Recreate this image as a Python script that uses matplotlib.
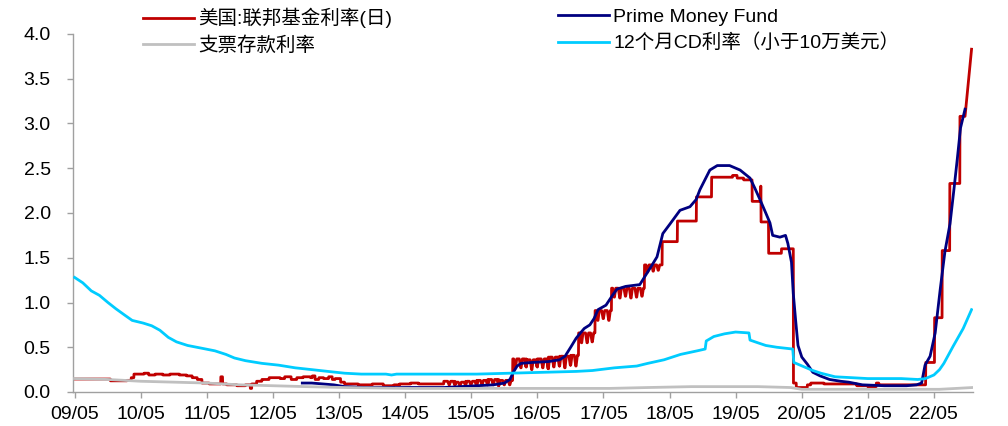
import matplotlib
matplotlib.use("Agg")
import matplotlib.pyplot as plt
import matplotlib.dates as mdates
import pandas as pd

plt.rcParams['font.family'] = ['Liberation Sans', 'Noto Sans CJK SC']

# ---- labels -------------------------------------------------------------
label_ffr = "美国:联邦基金利率(日)"
label_chk = "支票存款利率"
label_pmf = "Prime Money Fund"
label_cd = "12个月CD利率（小于10万美元）"

# ---- effective fed funds rate: level changes (date, level) ---------------
ffr_dates = [
    "2009-05-01", "2009-11-15", "2010-02-15",
    "2010-03-10", "2010-03-25", "2010-05-20", "2010-06-15", "2010-07-20",
    "2010-09-01", "2010-10-10", "2010-12-01", "2011-01-10", "2011-02-10",
    "2011-03-10", "2011-04-05", "2011-05-15", "2011-07-18", "2011-07-28",
    "2011-08-20", "2011-10-15", "2011-12-01", "2011-12-28", "2012-01-05",
    "2012-02-01", "2012-03-01", "2012-04-10", "2012-06-10", "2012-07-05",
    "2012-08-10", "2012-09-10", "2012-10-15", "2012-11-25", "2012-12-05",
    "2012-12-20", "2013-01-10", "2013-02-05", "2013-03-05", "2013-03-25",
    "2013-04-10", "2013-05-10", "2013-06-01", "2013-08-15", "2013-11-01",
    "2014-01-01", "2014-03-01", "2014-04-01", "2014-06-01", "2014-07-15",
    "2014-12-01", "2015-02-01", "2015-04-01", "2015-06-01", "2015-08-01",
    "2015-10-01", "2015-12-17", "2016-03-01", "2016-05-01", "2016-07-01",
    "2016-09-01", "2016-11-01", "2016-12-15", "2017-03-16", "2017-06-15",
    "2017-12-14", "2018-03-22", "2018-06-14", "2018-09-27", "2018-12-20",
    "2019-04-15", "2019-05-10", "2019-06-15", "2019-08-01", "2019-09-17",
    "2019-09-19", "2019-10-31", "2020-01-10", "2020-03-16",
    "2020-04-01", "2020-06-01", "2020-06-20", "2020-09-01", "2021-03-01",
    "2021-05-01", "2021-06-17", "2021-07-01", "2022-03-17", "2022-05-05",
    "2022-06-16", "2022-07-28", "2022-09-22",
]
ffr_levels = [
    0.145, 0.125, 0.13,
    0.16, 0.20, 0.21, 0.19, 0.20,
    0.19, 0.20, 0.19, 0.18, 0.16,
    0.14, 0.10, 0.09, 0.17, 0.09,
    0.08, 0.07, 0.08, 0.04, 0.09,
    0.12, 0.14, 0.16, 0.15, 0.17,
    0.14, 0.16, 0.17, 0.16, 0.18,
    0.14, 0.16, 0.15, 0.17, 0.14,
    0.15, 0.11, 0.09, 0.08, 0.09,
    0.07, 0.08, 0.09, 0.10, 0.09,
    0.12, 0.11, 0.12, 0.13, 0.14,
    0.13, 0.37, 0.36, 0.37, 0.39,
    0.40, 0.41, 0.66, 0.91, 1.16,
    1.42, 1.68, 1.91, 2.18, 2.40,
    2.42, 2.39, 2.37, 2.13, 2.30,
    1.90, 1.55, 1.60, 0.10,
    0.05, 0.08, 0.10, 0.09, 0.07,
    0.06, 0.10, 0.08, 0.33, 0.83,
    1.58, 2.33, 3.08,
]
# month-end dips of the daily rate
ffr_dip_months = [
    "2014-12", "2015-01", "2015-02", "2015-03", "2015-04", "2015-05",
    "2015-06", "2015-07", "2015-08", "2015-09", "2015-10", "2015-11",
    "2015-12", "2016-01", "2016-02", "2016-03", "2016-04", "2016-05",
    "2016-06", "2016-07", "2016-08", "2016-09", "2016-10", "2016-11",
    "2016-12", "2017-01", "2017-02", "2017-03", "2017-04", "2017-05",
    "2017-06", "2017-07", "2017-08", "2017-09", "2017-10", "2017-11",
    "2017-12", "2018-01", "2018-02",
]
ffr_dip_levels = [
    0.08, 0.08, 0.07, 0.08, 0.08, 0.07,
    0.08, 0.08, 0.08, 0.07, 0.08, 0.08,
    0.27, 0.27, 0.28, 0.25, 0.28, 0.27,
    0.26, 0.28, 0.29, 0.27, 0.30, 0.29,
    0.55, 0.55, 0.56, 0.80, 0.82, 0.80,
    1.06, 1.05, 1.07, 1.05, 1.06, 1.07,
    1.34, 1.35, 1.36,
]
ffr_tail_dates = ["2022-10-20", "2022-11-25"]
ffr_tail_levels = [3.08, 3.83]

# ---- checking deposit rate ---------------------------------------------
chk_dates = [
    "2009-05-01", "2009-11-01", "2010-05-01", "2010-11-01", "2011-05-01",
    "2011-11-01", "2012-05-01", "2012-11-01", "2013-06-01", "2014-06-01",
    "2017-06-01", "2018-01-01", "2018-09-01", "2019-09-01", "2020-03-01",
    "2020-05-01", "2022-06-01", "2022-09-01", "2022-11-30",
]
chk_levels = [
    0.15, 0.14, 0.12, 0.11, 0.10,
    0.08, 0.07, 0.06, 0.05, 0.04,
    0.04, 0.05, 0.06, 0.06, 0.05,
    0.03, 0.03, 0.04, 0.05,
]

# ---- prime money fund yield --------------------------------------------
pmf_dates = [
    "2012-10-10", "2012-12-01", "2013-02-01", "2013-04-01", "2013-06-01",
    "2013-10-01", "2014-06-01", "2014-12-01", "2015-03-01", "2015-06-01",
    "2015-09-01", "2015-11-01", "2015-12-01", "2015-12-20", "2016-01-10",
    "2016-02-01", "2016-04-01", "2016-07-01", "2016-09-01", "2016-10-01",
    "2016-11-01", "2016-12-01", "2016-12-25", "2017-01-15", "2017-02-15",
    "2017-03-10", "2017-04-01", "2017-05-15", "2017-06-20", "2017-07-15",
    "2017-09-01", "2017-11-18", "2017-12-28", "2018-01-25", "2018-02-21",
    "2018-03-25", "2018-05-01", "2018-06-28", "2018-08-22", "2018-09-25",
    "2018-10-16", "2018-11-15", "2018-12-10", "2019-01-20", "2019-03-29",
    "2019-05-26", "2019-07-20", "2019-08-15", "2019-09-13", "2019-10-15",
    "2019-11-07", "2019-11-22", "2020-01-01", "2020-02-01", "2020-02-14",
    "2020-03-05", "2020-03-15", "2020-03-28", "2020-04-10", "2020-05-01",
    "2020-06-01", "2020-07-01", "2020-08-10", "2020-10-01", "2020-12-01",
    "2021-01-15", "2021-04-01", "2021-08-01", "2021-12-01", "2022-01-25",
    "2022-02-22", "2022-03-13", "2022-04-10", "2022-05-08", "2022-06-05",
    "2022-07-01", "2022-07-29", "2022-08-20", "2022-09-07", "2022-09-25",
    "2022-10-20",
]
pmf_levels = [
    0.10, 0.10, 0.09, 0.08, 0.06,
    0.05, 0.05, 0.05, 0.06, 0.07,
    0.08, 0.10, 0.14, 0.22, 0.29,
    0.32, 0.33, 0.34, 0.36, 0.40,
    0.50, 0.60, 0.66, 0.71, 0.75,
    0.82, 0.92, 0.97, 1.08, 1.15,
    1.18, 1.20, 1.33, 1.42, 1.51,
    1.77, 1.87, 2.03, 2.07, 2.15,
    2.26, 2.38, 2.48, 2.53, 2.53,
    2.48, 2.39, 2.28, 2.15, 2.00,
    1.89, 1.75, 1.73, 1.75, 1.66,
    1.45, 1.10, 0.80, 0.52, 0.39,
    0.31, 0.22, 0.18, 0.14, 0.12,
    0.11, 0.08, 0.07, 0.07, 0.08,
    0.10, 0.30, 0.40, 0.66, 1.15,
    1.57, 1.88, 2.27, 2.60, 2.95,
    3.16,
]

# ---- 12-month CD rate (under $100k) --------------------------------------
cd_dates = [
    "2009-05-01", "2009-06-15", "2009-08-01", "2009-09-15", "2009-11-01",
    "2009-12-15", "2010-02-01", "2010-03-15", "2010-05-15", "2010-07-01",
    "2010-08-15", "2010-10-01", "2010-11-15", "2011-01-15", "2011-04-01",
    "2011-06-15", "2011-08-15", "2011-10-01", "2011-12-01", "2012-03-01",
    "2012-06-01", "2012-09-01", "2012-12-01", "2013-03-01", "2013-06-01",
    "2013-09-01", "2014-01-15", "2014-02-15", "2014-03-15", "2015-06-01",
    "2015-12-01", "2016-06-01", "2016-12-01", "2017-03-01", "2017-07-01",
    "2017-11-01", "2018-01-01", "2018-04-01", "2018-07-01", "2018-10-01",
    "2018-11-14", "2018-11-20", "2019-01-01", "2019-03-01", "2019-05-01",
    "2019-07-14", "2019-07-20", "2019-09-01", "2019-10-15", "2019-12-15",
    "2020-03-12", "2020-03-18", "2020-05-15", "2020-07-01", "2020-08-15",
    "2020-11-01", "2021-02-01", "2021-05-01", "2021-11-01", "2022-02-01",
    "2022-03-15", "2022-05-01", "2022-06-01", "2022-06-25", "2022-08-15",
    "2022-10-10", "2022-11-25",
]
cd_levels = [
    1.28, 1.22, 1.13, 1.08, 1.00,
    0.93, 0.86, 0.80, 0.77, 0.74,
    0.69, 0.61, 0.56, 0.52, 0.49,
    0.46, 0.42, 0.38, 0.35, 0.32,
    0.30, 0.27, 0.25, 0.23, 0.21,
    0.20, 0.20, 0.19, 0.20, 0.20,
    0.21, 0.22, 0.23, 0.24, 0.27,
    0.29, 0.32, 0.36, 0.42, 0.46,
    0.48, 0.57, 0.62, 0.65, 0.67,
    0.66, 0.58, 0.55, 0.52, 0.50,
    0.48, 0.33, 0.28, 0.24, 0.21,
    0.17, 0.16, 0.15, 0.15, 0.14,
    0.15, 0.19, 0.25, 0.32, 0.51,
    0.71, 0.92,
]

# ---- axis settings ------------------------------------------------------
y_ticks = [0.0, 0.5, 1.0, 1.5, 2.0, 2.5, 3.0, 3.5, 4.0]
x_start, x_end = "2009-04-22", "2022-12-03"

COL_FFR = "#C00000"
COL_CHK = "#C0C0C0"
COL_PMF = "#000080"
COL_CD = "#00CCFF"
COL_AXIS = "#A0A0A0"


def build_ffr_path():
    steps = pd.Series(ffr_levels, index=pd.to_datetime(ffr_dates))

    def level_at(day):
        return steps[steps.index <= day].iloc[-1]

    pts = []
    for i, (day, val) in enumerate(steps.items()):
        if i > 0:
            pts.append((day - pd.Timedelta(days=1), steps.iloc[i - 1]))
        pts.append((day, val))
    pts.append((pd.Timestamp(ffr_tail_dates[0]), ffr_tail_levels[0]))
    pts.append((pd.Timestamp(ffr_tail_dates[1]), ffr_tail_levels[1]))

    # each month-end dip is drawn as a short V around the last day
    for month, dip in zip(ffr_dip_months, ffr_dip_levels):
        end = pd.Period(month, freq="M").end_time.normalize()
        before = end - pd.Timedelta(days=9)
        after = end + pd.Timedelta(days=8)
        pts.append((before, level_at(before)))
        pts.append((end - pd.Timedelta(days=1), dip))
        pts.append((end + pd.Timedelta(days=1), dip))
        pts.append((after, level_at(after)))

    pts.sort(key=lambda p: p[0])
    return [p[0] for p in pts], [p[1] for p in pts]


fig = plt.figure(figsize=(10.08, 4.26), dpi=100)
ax = fig.add_axes([73 / 1008, 34 / 426, 900 / 1008, 358 / 426])

ffr_x, ffr_y = build_ffr_path()
lw = 2.0
h_ffr, = ax.plot(ffr_x, ffr_y, color=COL_FFR, lw=lw, zorder=2)
h_pmf, = ax.plot(pd.to_datetime(pmf_dates), pmf_levels, color=COL_PMF, lw=lw, zorder=3)
h_chk, = ax.plot(pd.to_datetime(chk_dates), chk_levels, color=COL_CHK, lw=lw, zorder=4)
h_cd, = ax.plot(pd.to_datetime(cd_dates), cd_levels, color=COL_CD, lw=lw, zorder=5)

ax.set_xlim(pd.Timestamp(x_start), pd.Timestamp(x_end))
ax.set_ylim(y_ticks[0], y_ticks[-1])
ax.set_yticks(y_ticks)
ax.yaxis.set_major_formatter(plt.FuncFormatter(lambda v, _: f"{v:.1f}"))
ax.xaxis.set_major_locator(mdates.MonthLocator(bymonth=5, bymonthday=1))
ax.xaxis.set_major_formatter(mdates.DateFormatter("%y/%m"))

for side in ("top", "right"):
    ax.spines[side].set_visible(False)
for side in ("left", "bottom"):
    ax.spines[side].set_color(COL_AXIS)
    ax.spines[side].set_linewidth(1.0)
ax.tick_params(axis="both", direction="out", length=4, width=1.0,
               color=COL_AXIS, labelsize=14, labelcolor="black")
ax.tick_params(axis="y", pad=12)
ax.tick_params(axis="x", pad=6)

leg_kw = dict(loc="upper left", frameon=False, fontsize=14, ncol=1,
              handlelength=2.6, handletextpad=0.25, labelspacing=0.42,
              borderpad=0.0, borderaxespad=0.0)
fig.legend([h_ffr, h_chk], [label_ffr, label_chk],
           bbox_to_anchor=(143 / 1008, 1 - 8 / 426), **leg_kw)
fig.legend([h_pmf, h_cd], [label_pmf, label_cd],
           bbox_to_anchor=(558 / 1008, 1 - 8 / 426), **leg_kw)

fig.savefig("out.png", dpi=100)
